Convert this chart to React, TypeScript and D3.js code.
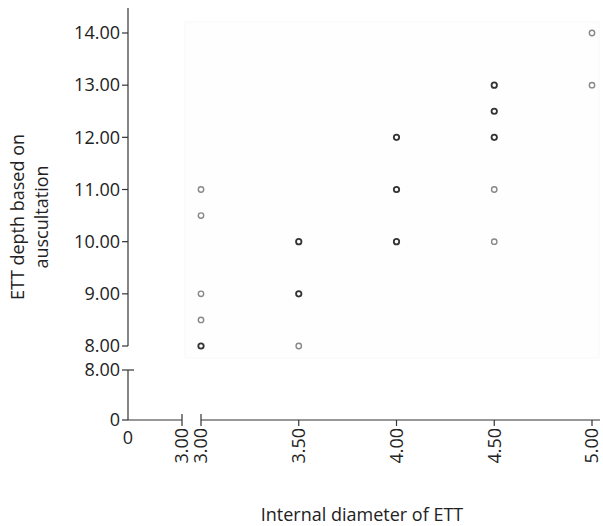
import React from "react";
import * as d3 from "d3";

// tube size vs depth, dark = overlapping points
const diameters = [3.0, 3.0, 3.0, 3.0, 3.0, 3.5, 3.5, 3.5, 4.0, 4.0, 4.0, 4.5, 4.5, 4.5, 4.5, 4.5, 5.0, 5.0];
const depths = [11, 10.5, 9, 8.5, 8, 10, 9, 8, 12, 11, 10, 13, 12.5, 12, 11, 10, 14, 13];
const dark = [false, false, false, false, true, true, true, false, true, true, true, true, true, true, false, false, false, false];

const yTicksUpper = [8, 9, 10, 11, 12, 13, 14];
const yTicksLower = [0, 8];
const xTicks = [3.0, 3.5, 4.0, 4.5, 5.0];

const font = "'Open Sans', 'Liberation Sans', sans-serif";
const axisColor = "#333";
const fs = 18;

const App = () => {
  const x = d3.scaleLinear().domain([3, 5]).range([201, 592]);
  const yUp = d3.scaleLinear().domain([8, 14]).range([346, 33]);
  const yLow = d3.scaleLinear().domain([0, 8]).range([420, 370]);
  const axisX = 128;
  const fmt = d3.format(".2f");

  return (
    <svg
      width={603}
      height={526}
      style={{ position: "absolute", left: 0, top: 0, background: "#fff" }}
      fontFamily={font}
    >
      {/* faint plot panel */}
      <rect x={185} y={22} width={414} height={336} fill="#fefefe" stroke="#f8f8f8" />

      {/* upper y axis */}
      <line x1={axisX} x2={axisX} y1={8} y2={yUp(8)} stroke={axisColor} strokeWidth={1.2} />
      {yTicksUpper.map((t) => (
        <g key={"u" + t} transform={`translate(${axisX},${yUp(t)})`}>
          <line x1={-6} x2={0} stroke={axisColor} strokeWidth={1.2} />
          <text x={-8} dy="0.35em" textAnchor="end" fontSize={fs} fill="#222">
            {fmt(t)}
          </text>
        </g>
      ))}

      {/* lower y axis */}
      <line x1={axisX} x2={axisX} y1={yLow(8)} y2={yLow(0)} stroke={axisColor} strokeWidth={1.2} />
      {yTicksLower.map((t) => (
        <g key={"l" + t} transform={`translate(${axisX},${yLow(t)})`}>
          <line x1={-6} x2={t === 8 ? 6 : 0} stroke={axisColor} strokeWidth={1.2} />
          <text x={-8} dy="0.35em" textAnchor="end" fontSize={fs} fill="#222">
            {t === 0 ? "0" : fmt(t)}
          </text>
        </g>
      ))}

      {/* broken x axis: left piece 0..3, right piece 3..5 */}
      <line x1={axisX} x2={182} y1={420} y2={420} stroke={axisColor} strokeWidth={1.2} />
      <line x1={182} x2={182} y1={414} y2={426} stroke={axisColor} strokeWidth={1.2} />
      <line x1={x(3)} x2={600} y1={420} y2={420} stroke={axisColor} strokeWidth={1.2} />
      <text x={axisX} y={444} textAnchor="middle" fontSize={fs} fill="#222">
        0
      </text>
      <text transform={`translate(${182},428) rotate(-90)`} dy="0.35em" textAnchor="end" fontSize={fs} fill="#222">
        {fmt(3)}
      </text>
      {xTicks.map((t) => (
        <g key={"x" + t} transform={`translate(${x(t)},420)`}>
          <line y1={t === 3 ? -6 : 0} y2={6} stroke={axisColor} strokeWidth={1.2} />
          <text transform="translate(0,8) rotate(-90)" dy="0.35em" textAnchor="end" fontSize={fs} fill="#222">
            {fmt(t)}
          </text>
        </g>
      ))}

      {/* points */}
      {diameters.map((d, i) => (
        <circle
          key={i}
          cx={x(d)}
          cy={yUp(depths[i])}
          r={2.7}
          fill="none"
          stroke={dark[i] ? "#333" : "#888"}
          strokeWidth={dark[i] ? 1.8 : 1.4}
        />
      ))}

      {/* axis titles */}
      <text
        transform="translate(18,217) rotate(-90)"
        dy="0.35em"
        textAnchor="middle"
        fontSize={fs}
        fill="#222"
      >
        ETT depth based on
      </text>
      <text
        transform="translate(42,217) rotate(-90)"
        dy="0.35em"
        textAnchor="middle"
        fontSize={fs}
        fill="#222"
      >
        auscultation
      </text>
      <text x={362} y={521} textAnchor="middle" fontSize={fs} fill="#222">
        Internal diameter of ETT
      </text>
    </svg>
  );
};

export default App;
